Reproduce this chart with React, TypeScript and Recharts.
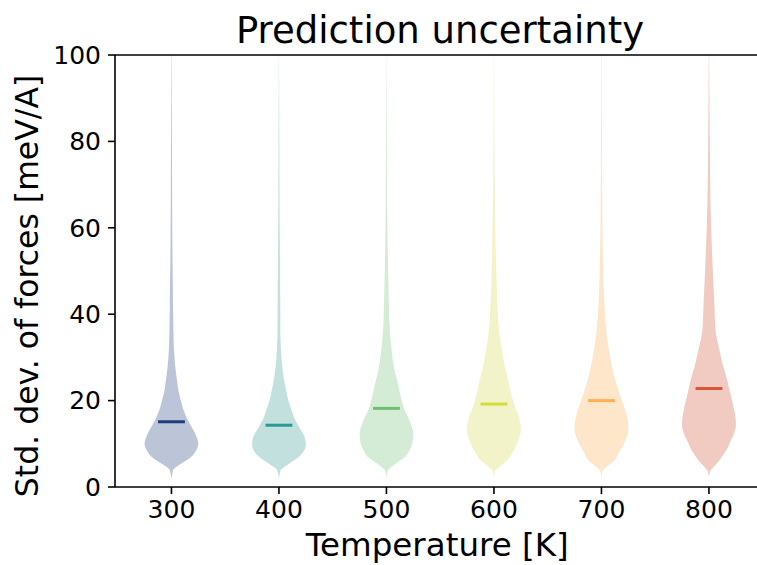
import { ComposedChart, Area, XAxis, YAxis, ReferenceLine, Label } from 'recharts';

const FONT = '"DejaVu Sans", sans-serif';

// temperatures (violin positions)
const temperatures = [300, 400, 500, 600, 700, 800];

// y levels (meV/A) where the violin densities were read
const levels = [2, 3, 4, 5, 6, 7, 8, 9, 10, 11, 12, 13, 14, 15, 16, 18, 20, 22, 25, 28, 32, 36, 43, 55, 66, 80, 100];

// relative density (1 = widest part of each violin)
const density300 = [0, 0.03, 0.067, 0.26, 0.52, 0.74, 0.87, 0.96, 1, 0.97, 0.91, 0.83, 0.74, 0.65, 0.57, 0.44, 0.35, 0.27, 0.2, 0.14, 0.093, 0.074, 0.059, 0.037, 0.026, 0.017, 0.006];
const density400 = [0, 0.03, 0.074, 0.28, 0.52, 0.74, 0.89, 0.98, 1, 0.98, 0.93, 0.83, 0.74, 0.65, 0.57, 0.46, 0.35, 0.28, 0.185, 0.12, 0.074, 0.052, 0.048, 0.033, 0.022, 0.015, 0.004];
const density500 = [0, 0.018, 0.067, 0.26, 0.48, 0.7, 0.81, 0.9, 0.96, 0.98, 1, 0.99, 0.94, 0.88, 0.82, 0.66, 0.57, 0.49, 0.38, 0.27, 0.19, 0.13, 0.088, 0.048, 0.026, 0.015, 0.004];
const density600 = [0, 0.019, 0.067, 0.26, 0.47, 0.6, 0.69, 0.79, 0.86, 0.92, 0.97, 1, 1, 0.97, 0.94, 0.81, 0.71, 0.62, 0.52, 0.4, 0.29, 0.195, 0.124, 0.067, 0.037, 0.019, 0.006];
const density700 = [0, 0.019, 0.074, 0.26, 0.46, 0.57, 0.65, 0.74, 0.83, 0.9, 0.96, 1, 1, 0.99, 0.96, 0.87, 0.76, 0.65, 0.5, 0.39, 0.27, 0.185, 0.104, 0.048, 0.03, 0.019, 0.006];
const density800 = [0, 0.019, 0.074, 0.22, 0.37, 0.48, 0.59, 0.69, 0.76, 0.83, 0.91, 0.96, 1, 1, 0.99, 0.93, 0.86, 0.78, 0.67, 0.53, 0.38, 0.25, 0.196, 0.111, 0.056, 0.03, 0.007];

const medians = [15.1, 14.3, 18.2, 19.2, 20.0, 22.8];

const bodyColors = ['#bcc4d8', '#c2e0dd', '#d4ecd5', '#f2f3c9', '#fde6c9', '#f1cac1'];
const medianColors = ['#1f3d7a', '#2a9b91', '#6dc06f', '#d6db3c', '#fdb04e', '#d9553a'];

const xTicks = [300, 400, 500, 600, 700, 800];
const yTicks = [0, 20, 40, 60, 80, 100];

const densities = [density300, density400, density500, density600, density700, density800];
const HALF_WIDTH = 25; // violin half width in x-axis units
const MEDIAN_HALF = 12.5;

const data = levels.map((y, i) => {
  const row: any = { y };
  temperatures.forEach((t, k) => {
    const w = densities[k][i] * HALF_WIDTH;
    row[`v${t}`] = [t - w, t + w];
  });
  return row;
});

const axisStyle = { stroke: '#000', strokeWidth: 1.6 };
const tickStyle = { fill: '#000', fontSize: 25, fontFamily: FONT };

export default function App() {
  return (
    <div style={{ position: 'fixed', left: 0, top: 0, width: 757, height: 565, overflow: 'hidden', background: '#fff' }}>
      <ComposedChart
        width={800}
        height={565}
        data={data}
        layout="vertical"
        margin={{ top: 55, right: 34.6, bottom: 0, left: 0 }}
        style={{ fontFamily: FONT }}
      >
        <XAxis
          type="number"
          domain={[247.5, 852.5]}
          ticks={xTicks}
          allowDataOverflow
          height={78}
          axisLine={axisStyle}
          tickLine={axisStyle}
          tickSize={7}
          tickMargin={6}
          tick={tickStyle}
        >
          <Label
            content={(props: any) => {
              const vb = props.viewBox;
              return (
                <text x={vb.x + vb.width / 2 - 3} y={556} textAnchor="middle" fontSize={32.5} fontFamily={FONT} fill="#000">
                  Temperature [K]
                </text>
              );
            }}
          />
        </XAxis>
        <YAxis
          type="number"
          dataKey="y"
          domain={[0, 100]}
          ticks={yTicks}
          reversed
          allowDataOverflow
          width={115}
          axisLine={axisStyle}
          tickLine={axisStyle}
          tickSize={7}
          tickMargin={7}
          tick={tickStyle}
        >
          <Label
            content={() => {
              const cy = 286;
              return (
                <text x={38} y={cy} textAnchor="middle" fontSize={31.5} fontFamily={FONT} fill="#000" transform={`rotate(-90, 38, ${cy})`}>
                  Std. dev. of forces [meV/A]
                </text>
              );
            }}
          />
        </YAxis>
        {temperatures.map((t, k) => (
          <Area
            key={t}
            dataKey={`v${t}`}
            type="monotone"
            stroke="none"
            fill={bodyColors[k]}
            fillOpacity={1}
            isAnimationActive={false}
            dot={false}
            activeDot={false}
          />
        ))}
        {temperatures.map((t, k) => (
          <ReferenceLine
            key={`m${t}`}
            segment={[{ x: t - MEDIAN_HALF, y: medians[k] }, { x: t + MEDIAN_HALF, y: medians[k] }]}
            stroke={medianColors[k]}
            strokeWidth={3}
          />
        ))}
        <ReferenceLine y={100} stroke="#000" strokeWidth={1.6}>
          <Label
            content={(props: any) => {
              const vb = props.viewBox;
              return (
                <text x={440} y={vb.y - 12} textAnchor="middle" fontSize={37} fontFamily={FONT} fill="#000">
                  Prediction uncertainty
                </text>
              );
            }}
          />
        </ReferenceLine>
        <ReferenceLine x={852.5} stroke="#000" strokeWidth={1.6} />
      </ComposedChart>
    </div>
  );
}
